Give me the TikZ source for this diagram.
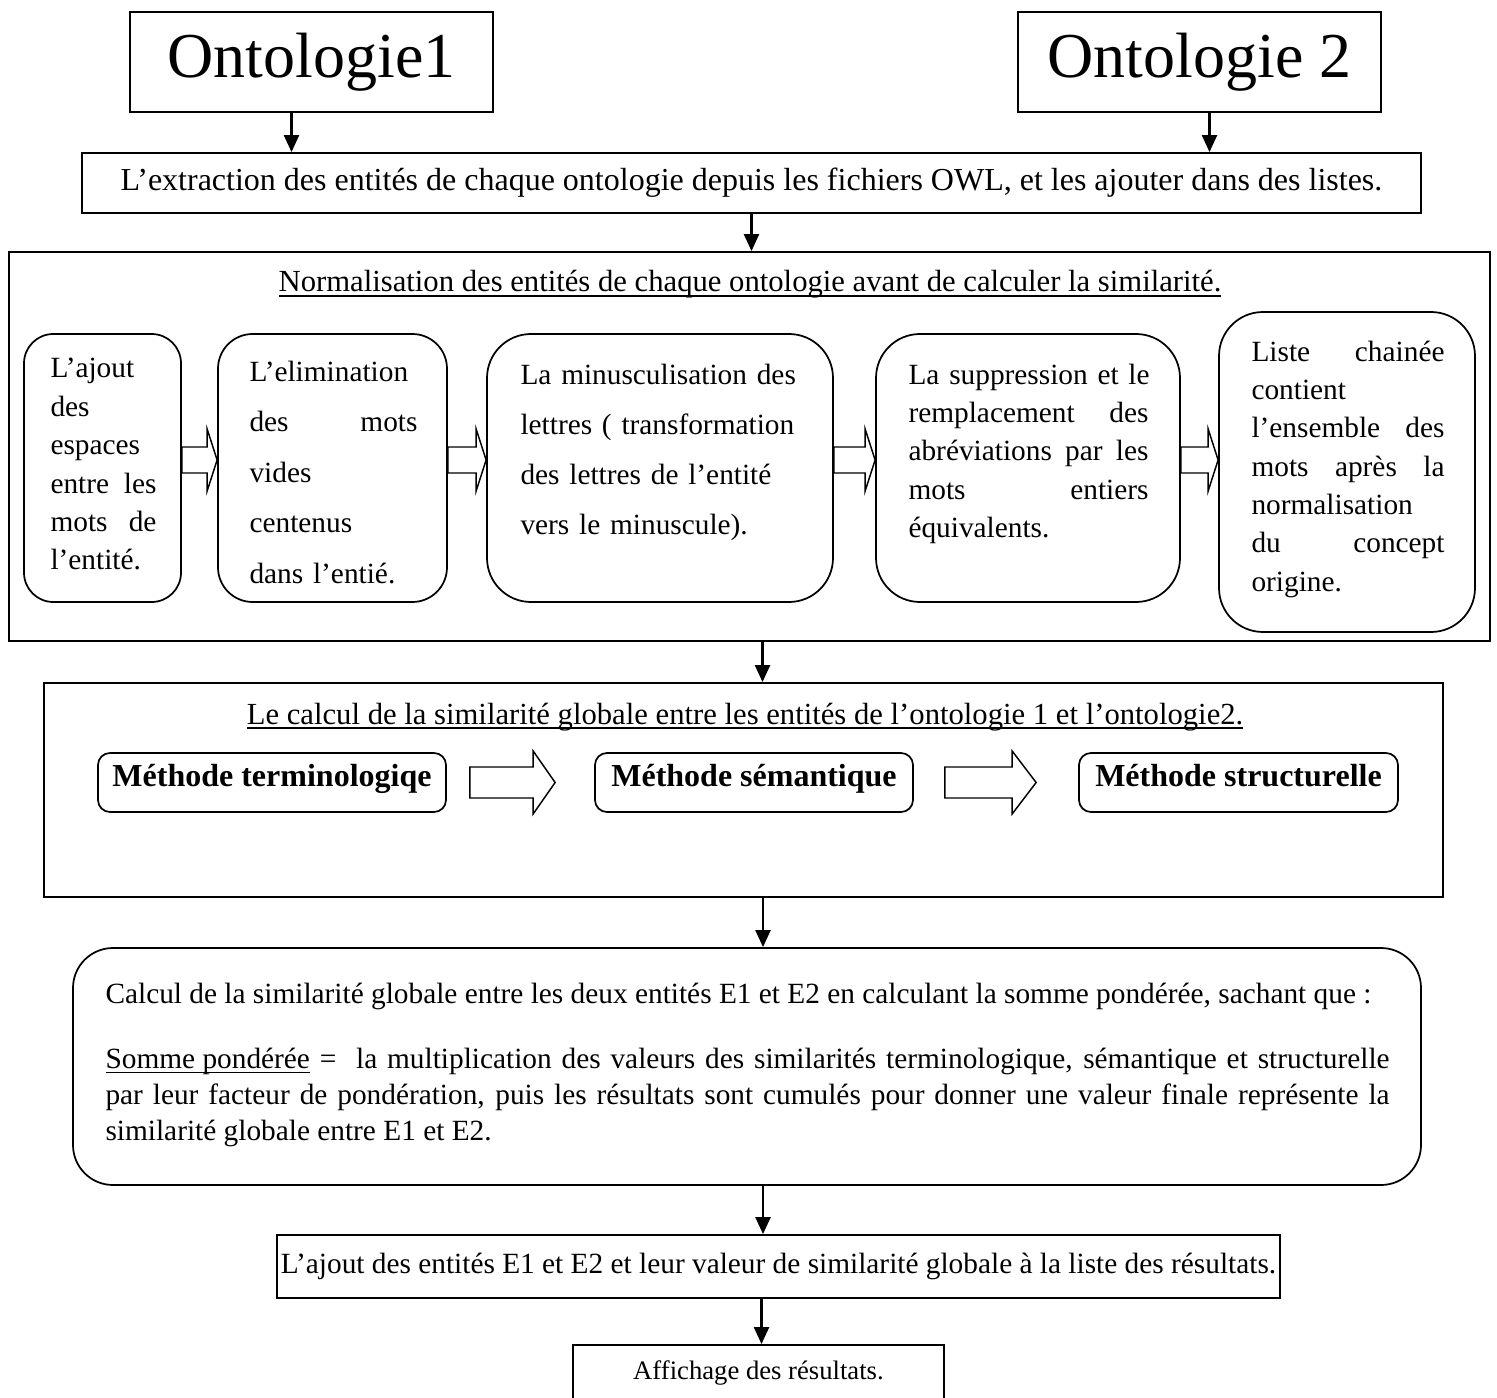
\documentclass[tikz,border=0pt]{standalone}
\usepackage{fontspec}
\setmainfont{Liberation Serif}
\usetikzlibrary{arrows.meta, positioning, calc, fit}
\newdimen\px
\px=0.375pt
\hyphenpenalty=10000
\exhyphenpenalty=10000
\newcommand{\souligne}[1]{\setbox0\hbox{#1}\rlap{\rule[-1.7pt]{\wd0}{0.5pt}}\box0\relax}
% grosse fleche creuse : depart, arrivee, demi-tige, demi-tete, longueur tete
\newcommand{\flechebloc}[5]{%
  \draw[bloc] let \p1=(#1), \p2=(#2) in
    (\x1,\y1+#3) -- (\x2-#5,\y1+#3) -- (\x2-#5,\y1+#4) -- (\x2,\y1)
    -- (\x2-#5,\y1-#4) -- (\x2-#5,\y1-#3) -- (\x1,\y1-#3) -- cycle;}

\begin{document}
\begin{tikzpicture}[x=0.375pt, y=-0.375pt,
  cadre/.style={draw, line width=0.65pt, inner sep=0pt},
  arrondi/.style={cadre, rounded corners=#1},
  texte/.style={inner sep=0pt, align=left},
  grand/.style={font=\fontsize{24}{28}\selectfont},
  titre/.style={anchor=base, font=\fontsize{11.5}{13}\selectfont},
  methode/.style={font=\fontsize{12}{14}\selectfont\bfseries, text height=0.75em, text depth=0.25em, yshift=1pt},
  fleche/.style={-{Triangle[length=6.4pt,width=5.6pt]}, line width=0.95pt},
  bloc/.style={draw, line width=0.55pt, fill=white},
  font=\fontsize{11}{13}\selectfont]
\useasboundingbox (0,0) rectangle (1497,1398);

% Ontologies
\node[cadre, fit={(130,12) (493,112)}, label={[grand]center:Ontologie1}] (ont1) {};
\node[cadre, fit={(1018,12) (1381,112)}, label={[grand]center:Ontologie 2}] (ont2) {};

% Extraction
\node[cadre, fit={(82,153) (1421,213)},
  label={[font=\fontsize{12}{14}\selectfont]center:{L’extraction des entités de chaque ontologie depuis les fichiers OWL, et les ajouter dans des listes.}}] (extr) {};
\draw[fleche] ($(ont1.south)+(-20,0)$) -- ($(ont1.south |- extr.north)+(-20,0)$);
\draw[fleche] ($(ont2.south)+(10,0)$) -- ($(ont2.south |- extr.north)+(10,0)$);

% Normalisation
\node[cadre, fit={(9,252) (1490,641)}] (norm) {};
\draw[fleche] (extr.south) -- (extr.south |- norm.north);
\node[titre] (titrenorm) at (750,292) {\souligne{Normalisation des entités de chaque ontologie avant de calculer la similarité.}};

\node[arrondi=11pt, fit={(24,334) (181,602)}] (ajoutesp) {};
\node[arrondi=13pt, fit={(218,334) (447,602)}] (elim) {};
\node[arrondi=16.5pt, fit={(487,334) (833,602)}] (minusc) {};
\node[arrondi=16.5pt, fit={(876,334) (1180,602)}] (suppr) {};
\node[arrondi=16.5pt, fit={(1219,312) (1475,632)}] (liste) {};

\node[texte, text width=106\px, anchor=base west, font=\fontsize{11}{14.4}\selectfont] (tajoutesp) at (50,378)
  {L’ajout\\ des\\ espaces\\ entre\hfill les\\ mots\hfill de\\ l’entité.};
\node[texte, text width=168\px, anchor=base west, font=\fontsize{11}{19}\selectfont] (telim) at (249,381)
  {L’elimination\\ des\hfill mots\\ vides\\ centenus\\ dans~l’entié.};
\node[texte, text width=300\px, anchor=base west, font=\fontsize{11}{18.75}\selectfont] (tminusc) at (520,384)
  {La~minusculisation~des\\ lettres~(~transformation\\ des~lettres~de~l’entité\\ vers~le~minuscule).};
\node[texte, text width=240\px, anchor=base west, font=\fontsize{11}{14.4}\selectfont] (tsuppr) at (908,384)
  {La~suppression~et~le\\ remplacement\hfill des\\ abréviations\hfill par\hfill les\\ mots\hfill entiers\\ équivalents.};
\node[texte, text width=193\px, anchor=base west, font=\fontsize{11}{14.4}\selectfont] (tliste) at (1251,361)
  {Liste\hfill chainée\\ contient\\ l’ensemble\hfill des\\ mots\hfill après\hfill la\\ normalisation\\ du\hfill concept\\ origine.};

\flechebloc{$(ajoutesp.east)+(0,-8)$}{elim.west}{13\px}{31\px}{10\px}
\flechebloc{$(elim.east)+(0,-8)$}{minusc.west}{13\px}{31\px}{10\px}
\flechebloc{$(minusc.east)+(0,-8)$}{suppr.west}{13\px}{31\px}{10\px}
\flechebloc{$(suppr.east)+(0,-8)$}{liste.west}{13\px}{31\px}{10\px}

% Similarite globale
\node[cadre, fit={(44,683) (1443,897)}] (simil) {};
\draw[fleche] ($(norm.south)+(13,0)$) -- ($(norm.south |- simil.north)+(13,0)$);
\node[titre] (titresimil) at (745,724) {\souligne{Le calcul de la similarité globale entre les entités de l’ontologie 1 et l’ontologie2.}};
\node[arrondi=4.5pt, fit={(98,753) (446,812)}, label={[methode]center:Méthode terminologiqe}] (mterm) {};
\node[arrondi=4.5pt, fit={(595,753) (913,812)}, label={[methode]center:Méthode sémantique}] (msem) {};
\node[arrondi=4.5pt, fit={(1079,753) (1398,812)}, label={[methode]center:Méthode structurelle}] (mstruct) {};
\flechebloc{$(mterm.east)+(23,0)$}{$(msem.west)+(-39,0)$}{15.5\px}{31.5\px}{22\px}
\flechebloc{$(msem.east)+(31,0)$}{$(mstruct.west)+(-42,0)$}{15.5\px}{31.5\px}{24\px}

% Somme ponderee
\node[arrondi=15pt, fit={(73,948) (1421,1185)}] (calc) {};
\draw[fleche] ($(simil.south)+(19.5,0)$) -- ($(simil.south |- calc.north)+(19.5,0)$);
\node[texte, align=justify, text width=1284\px, anchor=base west, font=\fontsize{11}{13.5}\selectfont] (tcalc) at (105,1003)
  {\mbox{Calcul de la similarité globale entre les deux entités E1 et E2 en calculant la somme pondérée, sachant que :}\\[11.2pt]
   \souligne{Somme pondérée} =~ la multiplication des valeurs des similarités terminologique, sémantique et structurelle\linebreak
   par leur facteur de pondération, puis les résultats sont cumulés pour donner une valeur finale représente la\linebreak
   similarité globale entre E1 et E2.};

% Resultats
\node[cadre, fit={(277,1235) (1280,1298)},
  label={center:{L’ajout des entités E1 et E2 et leur valeur de similarité globale à la liste des résultats.}}] (ajoutres) {};
\draw[fleche] ($(calc.south)+(16,0)$) -- ($(calc.south |- ajoutres.north)+(16,0)$);
\node[cadre, fit={(573,1345) (944,1400)}, label={[font=\fontsize{10}{12}\selectfont]center:Affichage des résultats.}] (affich) {};
\draw[fleche] ($(ajoutres.south)+(-17,0)$) -- ($(ajoutres.south |- affich.north)+(-17,0)$);
\end{tikzpicture}
\end{document}
